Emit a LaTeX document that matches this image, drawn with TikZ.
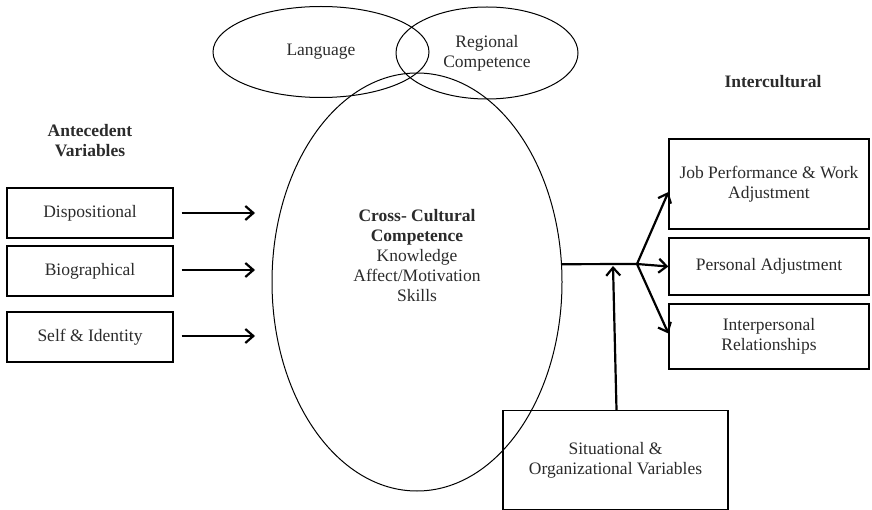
\documentclass[tikz,border=0pt]{standalone}
\usepackage{fontspec}
\setmainfont{Liberation Serif}
\usetikzlibrary{shapes.geometric,arrows.meta}

\definecolor{txt}{HTML}{2B2B2B}

\newcommand{\bodysize}{\fontsize{17.5}{20}\selectfont}

\tikzset{
  box/.style={draw=black, line width=1.2pt, rectangle, inner sep=0pt, align=center, text=txt, font=\bodysize},
  oval/.style={draw=black, line width=1pt, ellipse, inner sep=0pt, align=center, text=txt, font=\bodysize},
  plain/.style={align=center, text=txt, font=\bodysize, inner sep=0pt},
  heading/.style={align=center, text=txt, font=\bodysize\bfseries, inner sep=0pt},
  arr/.style={line width=2.2pt, -{Straight Barb[length=8pt,width=14pt,line width=2.2pt]}},
  link/.style={line width=2.2pt},
}

\begin{document}
\begin{tikzpicture}[x=1pt, y=-1pt]
\useasboundingbox (0,0) rectangle (872,510);

% competence ellipses
\node[oval, minimum width=216pt, minimum height=91pt] (lang) at (321,52) {Language};
\node[oval, minimum width=182pt, minimum height=92pt] (reg) at (487,53) {Regional\\Competence};
\node[oval, minimum width=290pt, minimum height=418pt] (ccc) at (417,282) {};
\node[plain] (ccctext) at (417,256)
  {\textbf{Cross- Cultural}\\\textbf{Competence}\\Knowledge\\Affect/Motivation\\Skills};

% antecedents
\node[heading] (ante) at (90,141) {Antecedent\\Variables};
\node[box, minimum width=166pt, minimum height=50pt] (disp) at (90,213) {Dispositional};
\node[box, minimum width=166pt, minimum height=50pt] (bio) at (90,271) {Biographical};
\node[box, minimum width=166pt, minimum height=50pt] (self) at (90,337) {Self \& Identity};

% intercultural outcomes
\node[heading] (inter) at (773,82) {Intercultural};
\node[box, minimum width=200pt, minimum height=90pt] (job) at (769,184) {Job Performance \& Work\\Adjustment};
\node[box, minimum width=200pt, minimum height=57pt] (pers) at (769,266.5) {Personal Adjustment};
\node[box, minimum width=200pt, minimum height=65pt] (ipr) at (769,336.5) {Interpersonal\\Relationships};

% moderators
\node[box, minimum width=225pt, minimum height=99pt] (sit) at (615.5,460) {Situational \&\\Organizational Variables};

% arrow end points in front of the central ellipse
\coordinate (a1) at (255,213);
\coordinate (a2) at (255,270);
\coordinate (a3) at (255,336);
\coordinate (j) at (637,264);
\coordinate (m) at (613,266);

\draw[arr] ([xshift=8pt]disp.east |- a1) -- (a1);
\draw[arr] ([xshift=8pt]bio.east |- a2) -- (a2);
\draw[arr] ([xshift=8pt]self.east |- a3) -- (a3);

\draw[link] (ccc.7.4) -- (j);
\draw[arr] (j) -- ([yshift=-8pt]job.west);
\draw[arr] (j) -- (pers.west);
\draw[arr] (j) -- ([yshift=3pt]ipr.west);
\draw[arr] ([xshift=1pt]sit.north) -- (m);
\end{tikzpicture}
\end{document}
